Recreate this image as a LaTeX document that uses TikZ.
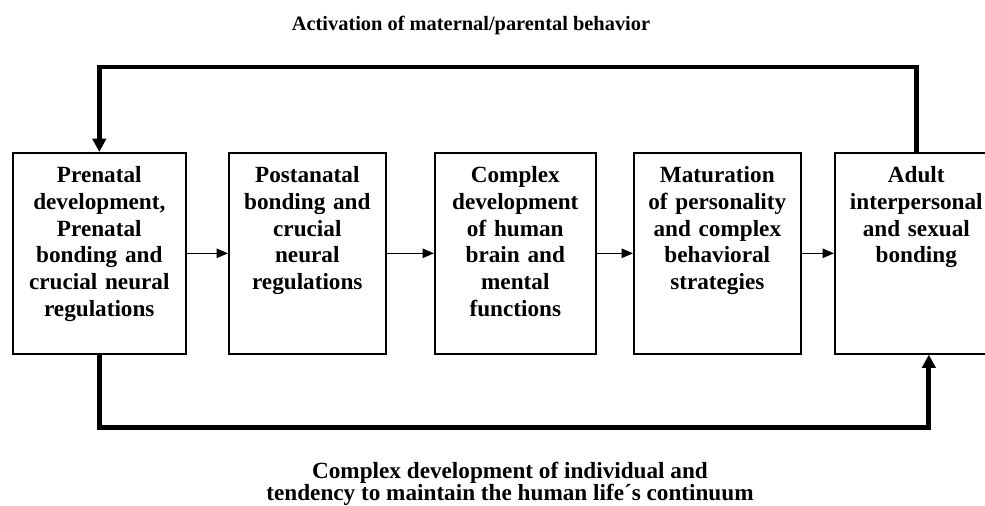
\documentclass[tikz,border=0pt]{standalone}
\usepackage{fontspec}
\setmainfont{Liberation Serif}
\usetikzlibrary{arrows.meta}

\begin{document}
\begin{tikzpicture}[x=0.75pt, y=-0.75pt,
  stagebox/.style={draw, line width=1.2pt, inner xsep=0pt, inner ysep=0pt,
    text width=#1, align=center, text height=22.5pt, text depth=128.25pt,
    anchor=north west, font=\bfseries\fontsize{17.4pt}{20pt}\selectfont},
  flow/.style={line width=1.1pt, -{Triangle[length=8.5pt, width=7pt]}},
  loop/.style={line width=3.6pt, -{Triangle[length=10pt, width=10pt]}},
  caption/.style={font=\bfseries\fontsize{#1}{18pt}\selectfont, anchor=base}]
  \useasboundingbox (0,0) rectangle (985,506);

  % Stages
  \node[stagebox=129.75pt] (b1) at (12,152) {Prenatal\\ development,\\ Prenatal\\ bonding and\\ crucial neural\\ regulations};
  \node[stagebox=117.75pt] (b2) at (228,152) {Postanatal\\ bonding and\\ crucial\\ neural\\ regulations};
  \node[stagebox=120.75pt] (b3) at (434,152) {Complex\\ development\\ of human\\ brain and\\ mental\\ functions};
  \node[stagebox=125.25pt] (b4) at (633,152) {Maturation\\ of personality\\ and complex\\ behavioral\\ strategies};
  \node[stagebox=122.25pt] (b5) at (834,152) {Adult\\ interpersonal\\ and sexual\\ bonding};

  % Forward arrows
  \foreach \a/\b in {b1/b2, b2/b3, b3/b4, b4/b5} {
    \draw[flow] (\a.east) -- (\b.west);
  }

  % Feedback on top
  \draw[loop, line join=miter] (b5.north) -- ++(0,-85) -| (b1.north);
  \node[caption=15.3pt] (top) at (471,31) {Activation of maternal/parental behavior};

  % Loop at the bottom
  \draw[loop, line join=miter] (b1.south) -- ++(0,73) -| ([xshift=9.4pt]b5.south);
  \node[caption=17.4pt, align=center] (bottom) at (510,500) {Complex development of individual and\\[-2pt] tendency to maintain the human life´s continuum};
\end{tikzpicture}
\end{document}
